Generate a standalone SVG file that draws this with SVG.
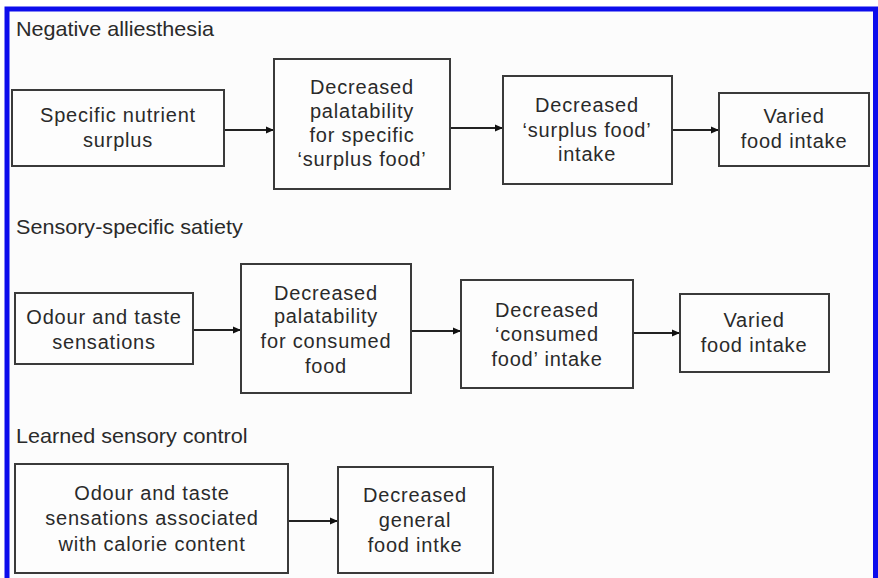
<svg xmlns="http://www.w3.org/2000/svg" width="878" height="578" viewBox="0 0 878 578">
<style>
.box{fill:#fdfdfd;stroke:#3a3a3a;stroke-width:2}
.t{font-family:"Liberation Sans",Arial,sans-serif;font-size:20px;letter-spacing:0.8px;fill:#2a2a2a;text-anchor:middle}
.h{font-family:"Liberation Sans",Arial,sans-serif;font-size:20px;fill:#2a2a2a}
.c{stroke:#222;stroke-width:2;fill:none;marker-end:url(#ah)}
</style>
<defs>
<marker id="ah" markerWidth="8" markerHeight="8" refX="7" refY="4" orient="auto" markerUnits="userSpaceOnUse">
<path d="M0,0.5 L8,4 L0,7.5 Z" fill="#111"/>
</marker>
</defs>
<rect x="0" y="0" width="878" height="578" fill="#ffffff"/>
<rect x="9" y="11" width="864" height="567" fill="#fcfcfc"/>
<path d="M7,578 V9 H875.5 V578" fill="none" stroke="#0c0cec" stroke-width="5"/>

<text class="h" x="16" y="36" transform="translate(16 0) scale(1.08 1) translate(-16 0)">Negative alliesthesia</text>
<text class="h" x="16" y="234" transform="translate(16 0) scale(1.08 1) translate(-16 0)">Sensory-specific satiety</text>
<text class="h" x="16" y="443" transform="translate(16 0) scale(1.08 1) translate(-16 0)">Learned sensory control</text>

<g id="connectors">
<line class="c" x1="225" y1="130" x2="273" y2="130"/>
<line class="c" x1="451" y1="128" x2="502" y2="128"/>
<line class="c" x1="673" y1="130" x2="718" y2="130"/>
<line class="c" x1="194" y1="330" x2="240" y2="330"/>
<line class="c" x1="412" y1="331" x2="460" y2="331"/>
<line class="c" x1="634" y1="333" x2="679" y2="333"/>
<line class="c" x1="289" y1="521" x2="337" y2="521"/>
</g>

<g id="nA">
<rect class="box" x="12" y="90" width="212" height="76"/>
<text class="t" x="118" y="122">Specific nutrient</text>
<text class="t" x="118" y="147">surplus</text>
</g>
<g id="nB">
<rect class="box" x="274" y="59" width="176" height="130"/>
<text class="t" x="362" y="94">Decreased</text>
<text class="t" x="362" y="118">palatability</text>
<text class="t" x="362" y="142">for specific</text>
<text class="t" x="362" y="166">‘surplus food’</text>
</g>
<g id="nC">
<rect class="box" x="503" y="76" width="169" height="108"/>
<text class="t" x="587" y="112">Decreased</text>
<text class="t" x="587" y="137">‘surplus food’</text>
<text class="t" x="587" y="161">intake</text>
</g>
<g id="nD">
<rect class="box" x="719" y="93" width="150" height="73"/>
<text class="t" x="794" y="123">Varied</text>
<text class="t" x="794" y="148">food intake</text>
</g>

<g id="nE">
<rect class="box" x="15" y="293" width="178" height="71"/>
<text class="t" x="104" y="324">Odour and taste</text>
<text class="t" x="104" y="349">sensations</text>
</g>
<g id="nF">
<rect class="box" x="241" y="264" width="170" height="129"/>
<text class="t" x="326" y="300">Decreased</text>
<text class="t" x="326" y="323">palatability</text>
<text class="t" x="326" y="348">for consumed</text>
<text class="t" x="326" y="373">food</text>
</g>
<g id="nG">
<rect class="box" x="461" y="280" width="172" height="108"/>
<text class="t" x="547" y="317">Decreased</text>
<text class="t" x="547" y="341">‘consumed</text>
<text class="t" x="547" y="366">food’ intake</text>
</g>
<g id="nH">
<rect class="box" x="680" y="294" width="149" height="78"/>
<text class="t" x="754" y="327">Varied</text>
<text class="t" x="754" y="352">food intake</text>
</g>

<g id="nI">
<rect class="box" x="15" y="464" width="273" height="109"/>
<text class="t" x="152" y="500">Odour and taste</text>
<text class="t" x="152" y="525">sensations associated</text>
<text class="t" x="152" y="551">with calorie content</text>
</g>
<g id="nJ">
<rect class="box" x="338" y="467" width="155" height="106"/>
<text class="t" x="415" y="502">Decreased</text>
<text class="t" x="415" y="527">general</text>
<text class="t" x="415" y="552">food intke</text>
</g>
</svg>
